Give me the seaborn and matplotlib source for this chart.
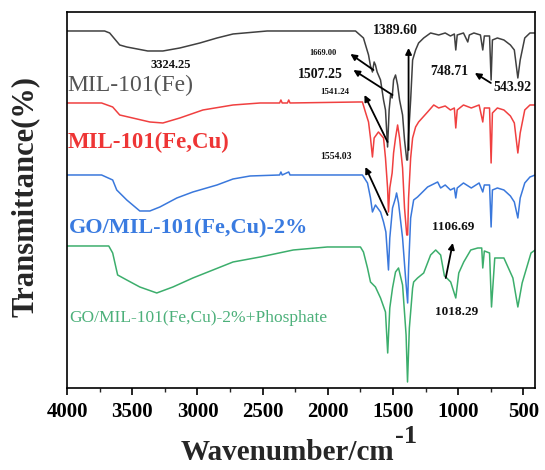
import matplotlib
matplotlib.use("Agg")
import matplotlib.pyplot as plt
from matplotlib.ticker import MultipleLocator
import numpy as np
import pandas as pd
import seaborn as sns

# FTIR spectra, stacked with vertical offsets (transmittance, a.u.)
wn_fe = [4000, 3712, 3673, 3596, 3542, 3381, 3265, 3135, 2981, 2850, 2727, 2465, 1788,
         1727, 1688, 1673, 1658, 1645, 1635, 1622, 1596, 1573, 1558, 1542, 1530, 1519,
         1507, 1496, 1481, 1465, 1450, 1427, 1412, 1395, 1389, 1381, 1365, 1350, 1327,
         1304, 1265, 1212, 1150, 1100, 1060, 1030, 1019, 1008, 960, 927, 915, 880, 830,
         812, 800, 760, 748, 738, 700, 650, 600, 570, 543, 525, 490, 450, 410]
t_fe = [357, 357, 355, 343, 341, 337, 337, 340, 345, 350, 354, 357, 357,
        350, 333, 322, 316, 326, 323, 316, 308, 288, 278, 241, 278, 293,
        290, 308, 313, 303, 288, 273, 248, 228, 228, 253, 288, 328, 338,
        345, 350, 355, 353, 355, 352, 354, 338, 353, 355, 346, 353, 355, 353,
        338, 352, 352, 308, 348, 350, 348, 343, 338, 310, 328, 350, 355, 355]

wn_fecu = [4000, 3735, 3650, 3596, 3365, 3265, 3135, 2958, 2727, 2519, 2370, 2360, 2350,
           2310, 2300, 2290, 1765, 1735, 1712, 1688, 1673, 1658, 1645, 1612, 1573, 1558,
           1542, 1535, 1525, 1507, 1496, 1481, 1465, 1450, 1427, 1412, 1395, 1388, 1381,
           1365, 1350, 1327, 1304, 1235, 1188, 1150, 1100, 1060, 1030, 1019, 1008, 960,
           900, 840, 812, 800, 760, 748, 738, 700, 650, 600, 570, 543, 525, 490, 450, 410]
t_fecu = [285, 285, 281, 273, 266, 265, 270, 278, 283, 285, 285, 288, 285,
          285, 288, 285, 286, 286, 276, 266, 250, 231, 250, 256, 250, 230,
          200, 176, 200, 215, 235, 250, 263, 250, 220, 180, 153, 153, 190,
          230, 250, 261, 266, 276, 283, 280, 282, 278, 280, 260, 278, 283,
          280, 283, 266, 280, 280, 225, 275, 280, 278, 272, 265, 235, 255, 278, 283, 283]

wn_go = [4000, 3735, 3650, 3619, 3542, 3442, 3365, 3288, 3158, 3035, 2850, 2727, 2596,
         2370, 2360, 2350, 2300, 2290, 1735, 1696, 1673, 1658, 1635, 1596, 1573, 1555,
         1535, 1525, 1504, 1481, 1473, 1458, 1427, 1404, 1388, 1381, 1365, 1342, 1312,
         1235, 1158, 1135, 1100, 1060, 1030, 1019, 1008, 960, 900, 840, 812, 800, 760,
         748, 738, 700, 650, 600, 570, 543, 525, 490, 450, 410]
t_go = [213, 213, 208, 198, 188, 177, 177, 181, 190, 196, 203, 209, 212,
        213, 216, 213, 216, 213, 213, 205, 190, 176, 183, 176, 166, 156,
        118, 150, 180, 190, 195, 185, 150, 110, 85, 120, 170, 188, 191,
        201, 206, 200, 203, 198, 200, 190, 200, 205, 200, 205, 196, 203, 203,
        161, 198, 200, 198, 192, 186, 170, 190, 205, 211, 213]

wn_po4 = [4000, 3680, 3650, 3612, 3542, 3442, 3312, 3188, 3035, 2881, 2727, 2519, 2265,
          2004, 1750, 1727, 1696, 1673, 1635, 1596, 1558, 1541, 1525, 1504, 1481, 1458,
          1427, 1400, 1389, 1375, 1350, 1342, 1312, 1265, 1212, 1173, 1135, 1106, 1096,
          1058, 1019, 996, 958, 904, 850, 820, 812, 800, 760, 745, 720, 650, 581, 543,
          510, 442, 410]
t_po4 = [142, 142, 135, 113, 108, 101, 95, 101, 110, 118, 126, 131, 138,
         141, 141, 136, 120, 106, 101, 90, 76, 35, 80, 100, 116, 120,
         103, 53, 6, 60, 100, 106, 110, 115, 133, 138, 133, 112, 111,
         106, 90, 115, 126, 138, 140, 140, 120, 137, 135, 81, 130, 130, 110, 81,
         105, 135, 138]

series_names = ["MIL-101(Fe)", "MIL-101(Fe,Cu)", "GO/MIL-101(Fe,Cu)-2%",
                "GO/MIL-101(Fe,Cu)-2%+Phosphate"]
line_colors = ["#404040", "#f04040", "#3a78dc", "#3cae6c"]
label_colors = ["#555555", "#ee3535", "#3a7be0", "#4cb07a"]

frames = []
for name, wn, t in zip(series_names, [wn_fe, wn_fecu, wn_go, wn_po4],
                       [t_fe, t_fecu, t_go, t_po4]):
    frames.append(pd.DataFrame({"wavenumber": wn, "T": t, "sample": name}))
df = pd.concat(frames, ignore_index=True)

sns.set_theme(style="white")
plt.rcParams["font.family"] = ["Liberation Serif", "DejaVu Serif"]

fig = plt.figure(figsize=(5.45, 4.70), dpi=100)
ax = fig.add_axes([0.123, 0.1745, 0.859, 0.80])

sns.lineplot(data=df, x="wavenumber", y="T", hue="sample", palette=line_colors,
             hue_order=series_names, estimator=None, sort=False, lw=1.1,
             legend=False, ax=ax)

ax.set_xlim(4000, 410)
ax.set_ylim(0, 376)
ax.set_yticks([])
ax.xaxis.set_major_locator(MultipleLocator(500))
ax.xaxis.set_minor_locator(MultipleLocator(250))
ax.tick_params(axis="x", which="major", direction="out", length=5, width=1.2,
               bottom=True, labelsize=15, pad=5, colors="black")
ax.tick_params(axis="x", which="minor", direction="out", length=3, width=1.0, bottom=True)
for lab in ax.get_xticklabels():
    lab.set_fontweight("bold")
for sp in ax.spines.values():
    sp.set_color("black")
    sp.set_linewidth(1.2)

ax.set_xlabel("Wavenumber/cm", fontsize=21, fontweight="bold")
ax.xaxis.set_label_coords(0.47, -0.135)
ax.set_ylabel("Transmittance(%)", fontsize=22, fontweight="bold")
ax.yaxis.set_label_coords(-0.058, 0.51)

# superscript of the unit, placed just after the x label
fig.canvas.draw()
renderer = fig.canvas.get_renderer()
bb = ax.xaxis.label.get_window_extent(renderer)
W, H = fig.bbox.width, fig.bbox.height
fig.text((bb.x1 + 1) / W, (bb.y1 + 14) / H, "-1", fontsize=19, fontweight="bold",
         ha="left", va="top")

# sample names
ax.text(3996, 303, series_names[0], color=label_colors[0], fontsize=17, va="center", ha="left")
ax.text(3996, 246, series_names[1], color=label_colors[1], fontsize=16.5, fontweight="bold",
        va="center", ha="left")
ax.text(3985, 160, series_names[2], color=label_colors[2], fontsize=16, fontweight="bold",
        va="center", ha="left")
ax.text(3985, 70, series_names[3], color=label_colors[3], fontsize=12.5, va="center", ha="left")

# peak labels
peak_labels = [("3324.25", 3204, 323, 9), ("1669.00", 2035, 335, 6),
               ("1507.25", 2058, 313, 10), ("1541.24", 1950, 296, 6.5),
               ("1389.60", 1481, 357, 10), ("748.71", 1065, 316, 10),
               ("543.92", 581, 300, 10), ("1554.03", 1935, 231, 7),
               ("1106.69", 1042, 161, 9.5), ("1018.29", 1012, 76, 9.5)]
for txt, x, y, fs in peak_labels:
    ax.text(x, y, txt, fontsize=fs, fontweight="bold", ha="center", va="center", color="#111111")

arrows = [((1827, 334), (1650, 318)), ((1804, 318), (1504, 293)),
          ((1719, 293), (1542, 246)), ((1712, 221), (1542, 173)),
          ((1381, 340), (1381, 238)), ((873, 315), (750, 305)),
          ((1042, 145), (1096, 110))]
for head, tail in arrows:
    ax.annotate("", xy=head, xytext=tail,
                arrowprops=dict(arrowstyle="-|>", color="black", lw=1.3,
                                mutation_scale=9, shrinkA=0, shrinkB=0))

fig.savefig("out.png", dpi=100)
